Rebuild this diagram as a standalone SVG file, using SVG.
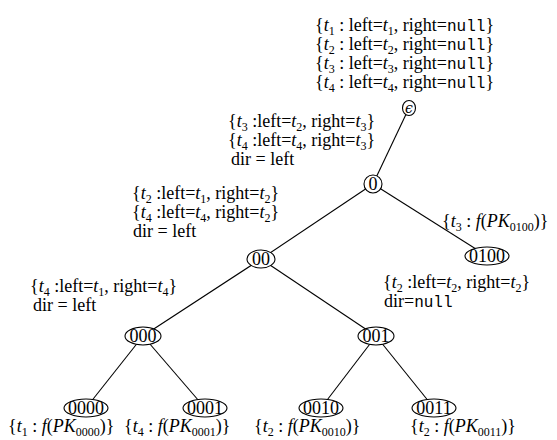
<svg xmlns="http://www.w3.org/2000/svg" width="557" height="440" viewBox="0 0 557 440">
<style>
.t{font-family:"Liberation Serif","Times New Roman",serif;font-size:18px;fill:#000;white-space:pre}
.i{font-style:italic}
.m{font-family:"Liberation Mono",monospace;font-size:16px}
.s{font-size:12px}
.n{fill:#fff;stroke:#000;stroke-width:1.1}
.nt{font-family:"Liberation Serif","Times New Roman",serif;font-size:18px;text-anchor:middle;fill:#000}
.e{stroke:#000;stroke-width:1.1;fill:none}
</style>
<rect width="557" height="440" fill="#fff"/>
<g id="connectors">
<line class="e" x1="409" y1="108" x2="373" y2="184"/>
<line class="e" x1="373" y1="184" x2="261" y2="259"/>
<line class="e" x1="373" y1="184" x2="487" y2="256"/>
<line class="e" x1="261" y1="259" x2="143" y2="336"/>
<line class="e" x1="261" y1="259" x2="376" y2="336"/>
<line class="e" x1="143" y1="336" x2="86" y2="408"/>
<line class="e" x1="143" y1="336" x2="205" y2="408"/>
<line class="e" x1="376" y1="336" x2="321" y2="408"/>
<line class="e" x1="376" y1="336" x2="434" y2="408"/>
</g>
<g id="root">
<ellipse class="n" cx="409" cy="108" rx="6.5" ry="7.5"/>
<text class="nt i" x="409" y="112.5" style="font-family:'DejaVu Serif',serif;font-size:14px">ϵ</text>
<text class="t" x="315" y="31">{<tspan class="i">t</tspan><tspan class="s" dy="3.5">1</tspan><tspan dy="-3.5"> : left=</tspan><tspan class="i">t</tspan><tspan class="s" dy="3.5">1</tspan><tspan dy="-3.5">, right=</tspan><tspan class="m">null</tspan>}</text>
<text class="t" x="315" y="50">{<tspan class="i">t</tspan><tspan class="s" dy="3.5">2</tspan><tspan dy="-3.5"> : left=</tspan><tspan class="i">t</tspan><tspan class="s" dy="3.5">2</tspan><tspan dy="-3.5">, right=</tspan><tspan class="m">null</tspan>}</text>
<text class="t" x="315" y="69">{<tspan class="i">t</tspan><tspan class="s" dy="3.5">3</tspan><tspan dy="-3.5"> : left=</tspan><tspan class="i">t</tspan><tspan class="s" dy="3.5">3</tspan><tspan dy="-3.5">, right=</tspan><tspan class="m">null</tspan>}</text>
<text class="t" x="315" y="88">{<tspan class="i">t</tspan><tspan class="s" dy="3.5">4</tspan><tspan dy="-3.5"> : left=</tspan><tspan class="i">t</tspan><tspan class="s" dy="3.5">4</tspan><tspan dy="-3.5">, right=</tspan><tspan class="m">null</tspan>}</text>
</g>
<g id="n0">
<ellipse class="n" cx="373" cy="184" rx="9" ry="9"/>
<text class="nt" x="373" y="190">0</text>
<text class="t" x="228" y="127">{<tspan class="i">t</tspan><tspan class="s" dy="3.5">3</tspan><tspan dy="-3.5"> :left=</tspan><tspan class="i">t</tspan><tspan class="s" dy="3.5">2</tspan><tspan dy="-3.5">, right=</tspan><tspan class="i">t</tspan><tspan class="s" dy="3.5">3</tspan><tspan dy="-3.5">}</tspan></text>
<text class="t" x="228" y="146">{<tspan class="i">t</tspan><tspan class="s" dy="3.5">4</tspan><tspan dy="-3.5"> :left=</tspan><tspan class="i">t</tspan><tspan class="s" dy="3.5">4</tspan><tspan dy="-3.5">, right=</tspan><tspan class="i">t</tspan><tspan class="s" dy="3.5">3</tspan><tspan dy="-3.5">}</tspan></text>
<text class="t" x="231" y="165">dir = left</text>
</g>
<g id="n00">
<ellipse class="n" cx="261" cy="259" rx="14" ry="9"/>
<text class="nt" x="261" y="265">00</text>
<text class="t" x="132" y="199">{<tspan class="i">t</tspan><tspan class="s" dy="3.5">2</tspan><tspan dy="-3.5"> :left=</tspan><tspan class="i">t</tspan><tspan class="s" dy="3.5">1</tspan><tspan dy="-3.5">, right=</tspan><tspan class="i">t</tspan><tspan class="s" dy="3.5">2</tspan><tspan dy="-3.5">}</tspan></text>
<text class="t" x="132" y="218">{<tspan class="i">t</tspan><tspan class="s" dy="3.5">4</tspan><tspan dy="-3.5"> :left=</tspan><tspan class="i">t</tspan><tspan class="s" dy="3.5">4</tspan><tspan dy="-3.5">, right=</tspan><tspan class="i">t</tspan><tspan class="s" dy="3.5">2</tspan><tspan dy="-3.5">}</tspan></text>
<text class="t" x="133" y="237">dir = left</text>
</g>
<g id="n0100">
<ellipse class="n" cx="487" cy="256" rx="22" ry="9"/>
<text class="nt" x="487" y="262">0100</text>
<text class="t" x="442" y="227">{<tspan class="i">t</tspan><tspan class="s" dy="3.5">3</tspan><tspan dy="-3.5"> : </tspan><tspan class="i">f</tspan>(<tspan class="i">PK</tspan><tspan class="s" dy="3.5">0100</tspan><tspan dy="-3.5">)}</tspan></text>
</g>
<g id="n000">
<ellipse class="n" cx="143" cy="336" rx="18" ry="9"/>
<text class="nt" x="143" y="342">000</text>
<text class="t" x="30" y="292">{<tspan class="i">t</tspan><tspan class="s" dy="3.5">4</tspan><tspan dy="-3.5"> :left=</tspan><tspan class="i">t</tspan><tspan class="s" dy="3.5">1</tspan><tspan dy="-3.5">, right=</tspan><tspan class="i">t</tspan><tspan class="s" dy="3.5">4</tspan><tspan dy="-3.5">}</tspan></text>
<text class="t" x="33" y="311">dir = left</text>
</g>
<g id="n001">
<ellipse class="n" cx="376" cy="336" rx="18" ry="9"/>
<text class="nt" x="376" y="342">001</text>
<text class="t" x="383" y="288">{<tspan class="i">t</tspan><tspan class="s" dy="3.5">2</tspan><tspan dy="-3.5"> :left=</tspan><tspan class="i">t</tspan><tspan class="s" dy="3.5">2</tspan><tspan dy="-3.5">, right=</tspan><tspan class="i">t</tspan><tspan class="s" dy="3.5">2</tspan><tspan dy="-3.5">}</tspan></text>
<text class="t" x="384" y="307">dir=<tspan class="m">null</tspan></text>
</g>
<g id="n0000">
<ellipse class="n" cx="86" cy="408" rx="22" ry="9"/>
<text class="nt" x="86" y="414">0000</text>
<text class="t" x="8" y="432">{<tspan class="i">t</tspan><tspan class="s" dy="3.5">1</tspan><tspan dy="-3.5"> : </tspan><tspan class="i">f</tspan>(<tspan class="i">PK</tspan><tspan class="s" dy="3.5">0000</tspan><tspan dy="-3.5">)}</tspan></text>
</g>
<g id="n0001">
<ellipse class="n" cx="205" cy="408" rx="22" ry="9"/>
<text class="nt" x="205" y="414">0001</text>
<text class="t" x="124" y="432">{<tspan class="i">t</tspan><tspan class="s" dy="3.5">4</tspan><tspan dy="-3.5"> : </tspan><tspan class="i">f</tspan>(<tspan class="i">PK</tspan><tspan class="s" dy="3.5">0001</tspan><tspan dy="-3.5">)}</tspan></text>
</g>
<g id="n0010">
<ellipse class="n" cx="321" cy="408" rx="22" ry="9"/>
<text class="nt" x="321" y="414">0010</text>
<text class="t" x="254" y="432">{<tspan class="i">t</tspan><tspan class="s" dy="3.5">2</tspan><tspan dy="-3.5"> : </tspan><tspan class="i">f</tspan>(<tspan class="i">PK</tspan><tspan class="s" dy="3.5">0010</tspan><tspan dy="-3.5">)}</tspan></text>
</g>
<g id="n0011">
<ellipse class="n" cx="434" cy="408" rx="22" ry="9"/>
<text class="nt" x="434" y="414">0011</text>
<text class="t" x="410" y="432">{<tspan class="i">t</tspan><tspan class="s" dy="3.5">2</tspan><tspan dy="-3.5"> : </tspan><tspan class="i">f</tspan>(<tspan class="i">PK</tspan><tspan class="s" dy="3.5">0011</tspan><tspan dy="-3.5">)}</tspan></text>
</g>
</svg>
